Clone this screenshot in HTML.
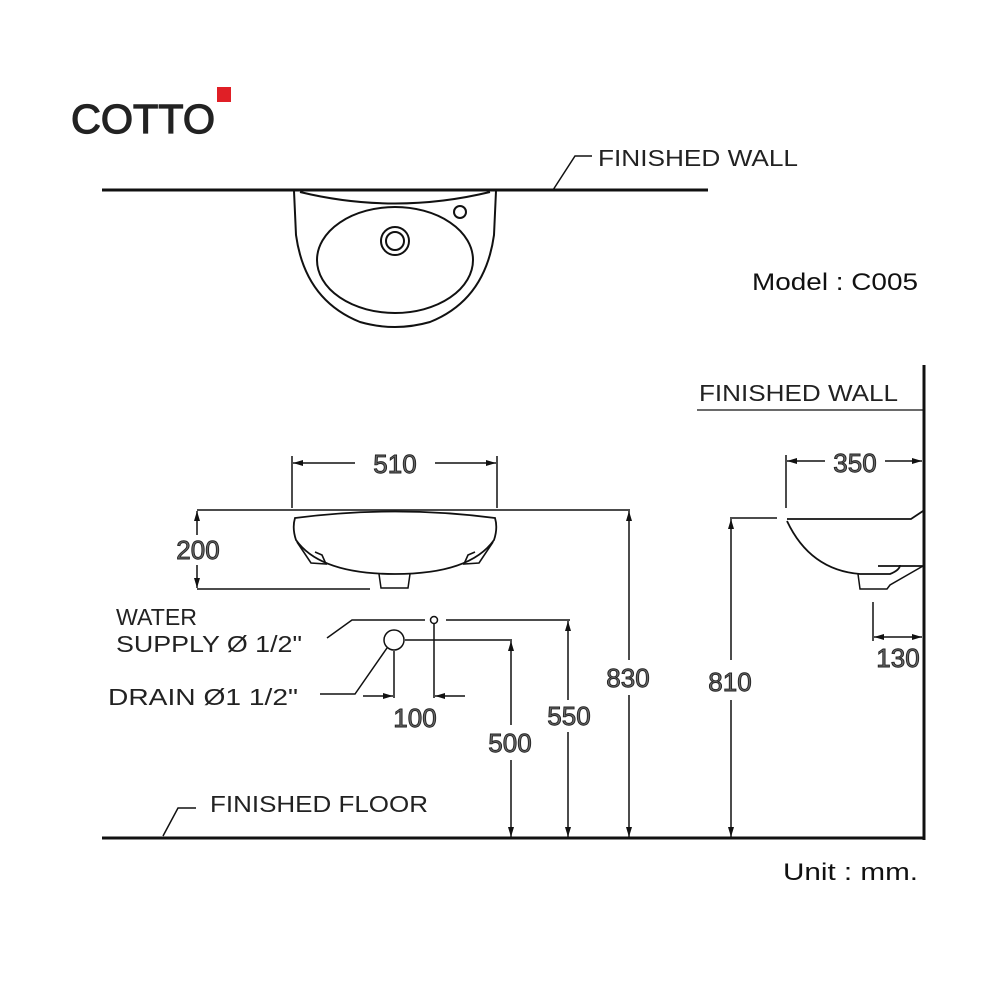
<!DOCTYPE html>
<html><head><meta charset="utf-8"><style>
html,body{margin:0;padding:0;background:#fff;width:1000px;height:1000px;overflow:hidden}
svg{display:block}
.l{font-family:"Liberation Sans",sans-serif;font-size:23px;fill:#222}
.d{font-family:"Liberation Sans",sans-serif;font-size:26px;fill:#666;stroke:#222;stroke-width:0.9;text-anchor:middle}
</style></head><body>
<svg width="1000" height="1000" viewBox="0 0 1000 1000" xmlns="http://www.w3.org/2000/svg">
<defs>
<marker id="a" viewBox="0 0 10 6" refX="10" refY="3" markerWidth="16" markerHeight="6" markerUnits="userSpaceOnUse" orient="auto"><path d="M0,0 L10,3 L0,6 Z" fill="#111"/></marker>
</defs>
<!-- logo -->
<text x="71" y="133" font-family="Liberation Sans,sans-serif" font-size="41" fill="#222" stroke="#222" stroke-width="1.2" textLength="144" lengthAdjust="spacingAndGlyphs">COTTO</text>
<rect x="217" y="87" width="14" height="15" fill="#e01f26"/>

<g fill="none" stroke="#111" stroke-width="2">
<!-- top view -->
<line x1="102" y1="190" x2="708" y2="190" stroke-width="3"/>
<polyline points="553,190 575,156 592,156" stroke-width="1.5"/>
<path d="M294,191 L296,235 Q305,300 360,322 Q395,332 430,322 Q485,300 494,235 L496,191"/>
<path d="M300,192 Q395,215 490,192"/>
<ellipse cx="395" cy="260" rx="78" ry="53"/>
<circle cx="395" cy="241" r="14"/>
<circle cx="395" cy="241" r="9"/>
<circle cx="460" cy="212" r="6"/>

<!-- front view -->
<g stroke-width="1.5">
<line x1="292" y1="456" x2="292" y2="508"/>
<line x1="497" y1="456" x2="497" y2="508"/>
<line x1="355" y1="463" x2="293" y2="463" marker-end="url(#a)"/>
<line x1="435" y1="463" x2="496" y2="463" marker-end="url(#a)"/>
<line x1="197" y1="510" x2="630" y2="510"/>
<line x1="197" y1="589" x2="370" y2="589"/>
<line x1="197" y1="535" x2="197" y2="511" marker-end="url(#a)"/>
<line x1="197" y1="565" x2="197" y2="588" marker-end="url(#a)"/>
<line x1="629" y1="660" x2="629" y2="511" marker-end="url(#a)"/>
<line x1="629" y1="695" x2="629" y2="837" marker-end="url(#a)"/>
</g>
<path d="M295,518 Q395,505 495,518 Q498,528 494,540 Q470,574 395,574 Q320,574 296,540 Q292,528 295,518 Z" stroke-width="1.8"/>
<path d="M297,542 L311,563 L326,564 L322,555 L315,552" stroke-width="1.6"/>
<path d="M493,542 L479,563 L464,564 L468,555 L475,552" stroke-width="1.6"/>
<path d="M379,574 L381,588 L408,588 L410,574" stroke-width="1.5"/>

<g stroke-width="1.5">
<polyline points="327,638 352,620 425,620"/>
<circle cx="434" cy="620" r="3.5"/>
<line x1="446" y1="620" x2="570" y2="620"/>
<line x1="568" y1="700" x2="568" y2="621" marker-end="url(#a)"/>
<line x1="568" y1="732" x2="568" y2="837" marker-end="url(#a)"/>
<circle cx="394" cy="640" r="10"/>
<line x1="405" y1="640" x2="512" y2="640"/>
<line x1="511" y1="725" x2="511" y2="641" marker-end="url(#a)"/>
<line x1="511" y1="760" x2="511" y2="837" marker-end="url(#a)"/>
<polyline points="387,648 355,694 320,694"/>
<line x1="394" y1="651" x2="394" y2="698"/>
<line x1="434" y1="624" x2="434" y2="698"/>
<line x1="363" y1="696" x2="393" y2="696" marker-end="url(#a)"/>
<line x1="465" y1="696" x2="435" y2="696" marker-end="url(#a)"/>
</g>

<!-- floor -->
<line x1="102" y1="838" x2="925" y2="838" stroke-width="3"/>
<polyline points="163,836 178,808 196,808" stroke-width="1.5"/>

<!-- side view -->
<line x1="924" y1="365" x2="924" y2="840" stroke-width="3"/>
<line x1="697" y1="410" x2="923" y2="410" stroke-width="1.2"/>
<g stroke-width="1.5">
<line x1="786" y1="455" x2="786" y2="508"/>
<line x1="825" y1="461" x2="787" y2="461" marker-end="url(#a)"/>
<line x1="885" y1="461" x2="922" y2="461" marker-end="url(#a)"/>
<line x1="730" y1="518" x2="777" y2="518"/>
<line x1="731" y1="660" x2="731" y2="519" marker-end="url(#a)"/>
<line x1="731" y1="700" x2="731" y2="837" marker-end="url(#a)"/>
<line x1="873" y1="602" x2="873" y2="641"/>
<line x1="898" y1="637" x2="874" y2="637" marker-end="url(#a)"/>
<line x1="898" y1="637" x2="922" y2="637" marker-end="url(#a)"/>
</g>
<path d="M787,519 L911,519 L923,511" stroke-width="1.8"/>
<path d="M787,521 Q810,570 860,574 L890,574 Q900,570 900,565" stroke-width="1.8"/>
<line x1="878" y1="566" x2="923" y2="566" stroke-width="1.8"/>
<path d="M858,574 L860,589 L887,589 L890,585 L923,566" stroke-width="1.5"/>
</g>

<!-- labels -->
<text class="l" x="598" y="166" textLength="200" lengthAdjust="spacingAndGlyphs">FINISHED  WALL</text>
<text x="752" y="290" font-family="Liberation Sans,sans-serif" font-size="24" fill="#111" textLength="166" lengthAdjust="spacingAndGlyphs">Model : C005</text>
<text class="l" x="699" y="401" textLength="199" lengthAdjust="spacingAndGlyphs">FINISHED  WALL</text>
<text class="l" x="116" y="625" textLength="81" lengthAdjust="spacingAndGlyphs">WATER</text>
<text class="l" x="116" y="652" textLength="186" lengthAdjust="spacingAndGlyphs">SUPPLY  Ø 1/2"</text>
<text class="l" x="108" y="705" textLength="190" lengthAdjust="spacingAndGlyphs">DRAIN  Ø1  1/2"</text>
<text class="l" x="210" y="812" textLength="218" lengthAdjust="spacingAndGlyphs">FINISHED  FLOOR</text>
<text x="783" y="880" font-family="Liberation Sans,sans-serif" font-size="24" fill="#111" textLength="135" lengthAdjust="spacingAndGlyphs">Unit : mm.</text>

<text class="d" x="395" y="473">510</text>
<text class="d" x="198" y="559">200</text>
<text class="d" x="628" y="687">830</text>
<text class="d" x="415" y="727">100</text>
<text class="d" x="569" y="725">550</text>
<text class="d" x="510" y="752">500</text>
<text class="d" x="855" y="472">350</text>
<text class="d" x="730" y="691">810</text>
<text class="d" x="898" y="667">130</text>
</svg>
</body></html>
